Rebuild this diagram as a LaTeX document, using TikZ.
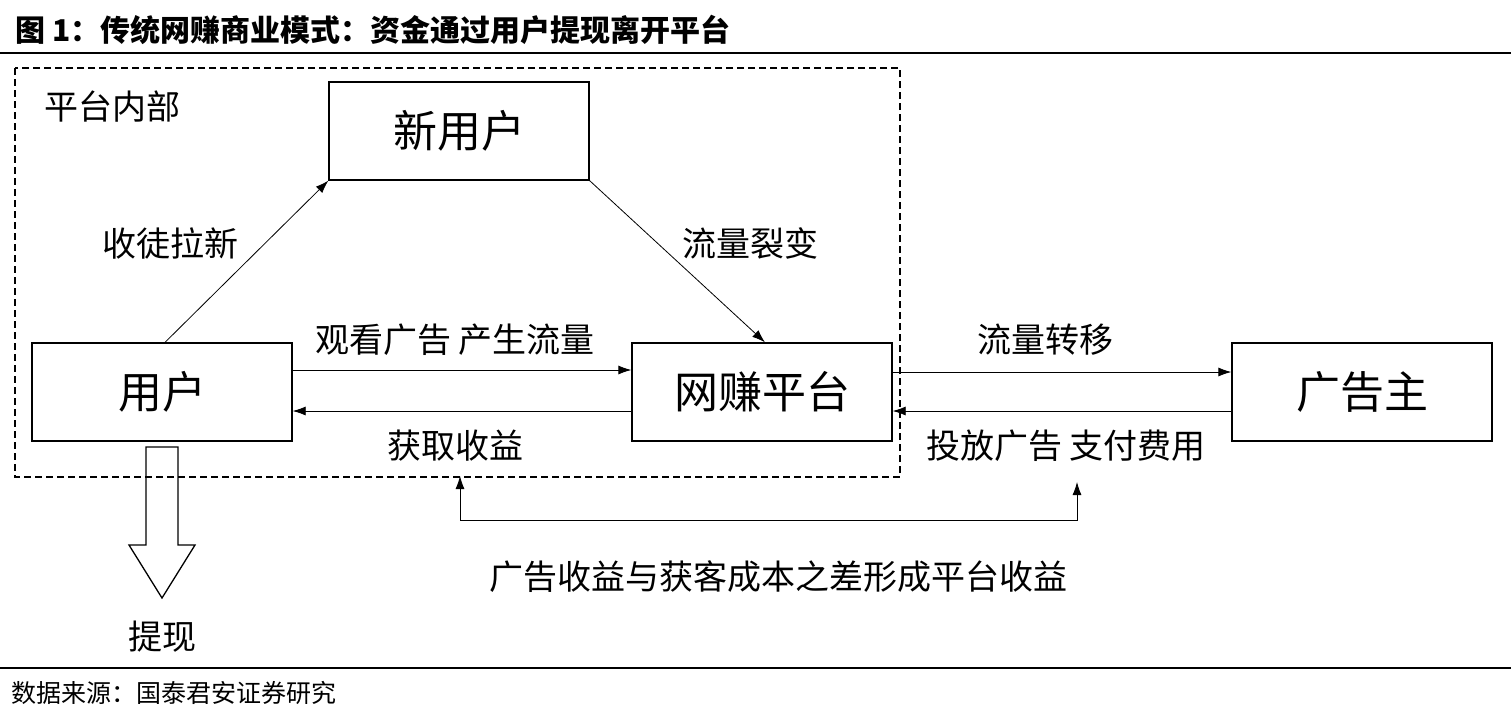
\documentclass[tikz,border=0pt]{standalone}
\usepackage{fontspec}
\setmainfont{Noto Sans CJK SC}
\usetikzlibrary{arrows.meta}
\begin{document}
\begin{tikzpicture}[x=1pt,y=-1pt,
  box/.style={draw,line width=1.3pt,minimum width=260pt,minimum height=98pt,font=\fontsize{44}{50}\selectfont,inner sep=0},
  lbl/.style={font=\fontsize{34}{40}\selectfont,inner sep=0},
  arr/.style={-{Latex[length=13pt,width=9pt]},line width=0.8pt}]
\useasboundingbox (0,0) rectangle (1511,720);
\node[anchor=west,font=\fontsize{30}{34}\selectfont\bfseries] (title) at (12,30) {图 1：传统网赚商业模式：资金通过用户提现离开平台};
\draw[line width=1.5pt] (0,53) -- (1511,53);
\draw[line width=1.5pt] (0,668) -- (1511,668);
\node[anchor=west,font=\fontsize{25}{28}\selectfont] (src) at (8,693) {数据来源：国泰君安证券研究};
\draw[line width=1.3pt,dash pattern=on 7pt off 4pt] (15,68) rectangle (900,477);
\node[lbl] (inner) at (112,107) {平台内部};
\node[box] (new) at (459,131) {新用户};
\node[box] (user) at (162,392) {用户};
\node[box] (plat) at (762,392) {网赚平台};
\node[box] (adv) at (1362,392) {广告主};
\draw[arr] (user.north) ++(3,0) -- (new.south west);
\draw[arr] (new.south east) -- ([xshift=3pt]plat.north);
\draw[arr] ([yshift=22pt]user.east) -- ([yshift=22pt]plat.west);
\draw[arr] ([yshift=-19pt]plat.west) -- ([yshift=-19pt]user.east);
\draw[arr] ([yshift=20pt]plat.east) -- ([yshift=20pt]adv.west);
\draw[arr] ([yshift=-19pt]adv.west) -- ([yshift=-19pt]plat.east);
\node[lbl] (l1) at (170,243) {收徒拉新};
\node[lbl] (l2) at (750,243) {流量裂变};
\node[lbl] (l3) at (455,340) {观看广告 产生流量};
\node[lbl] (l4) at (455,446) {获取收益};
\node[lbl] (l5) at (1045,340) {流量转移};
\node[lbl] (l6) at (1066,446) {投放广告 支付费用};
\coordinate (b1) at (460,520);
\coordinate (b2) at (1077,520);
\draw[arr] (b1) -- (460,476);
\draw[arr] (460,520) -- (b2) -- (1077,482);
\node[lbl] (l7) at (778,577) {广告收益与获客成本之差形成平台收益};
\draw[line width=1.3pt] (146,447) -- (178,447) -- (178,545) -- (195,545) -- (162,598) -- (129,545) -- (146,545) -- cycle;
\node[lbl] (l8) at (162,637) {提现};
\end{tikzpicture}
\end{document}
